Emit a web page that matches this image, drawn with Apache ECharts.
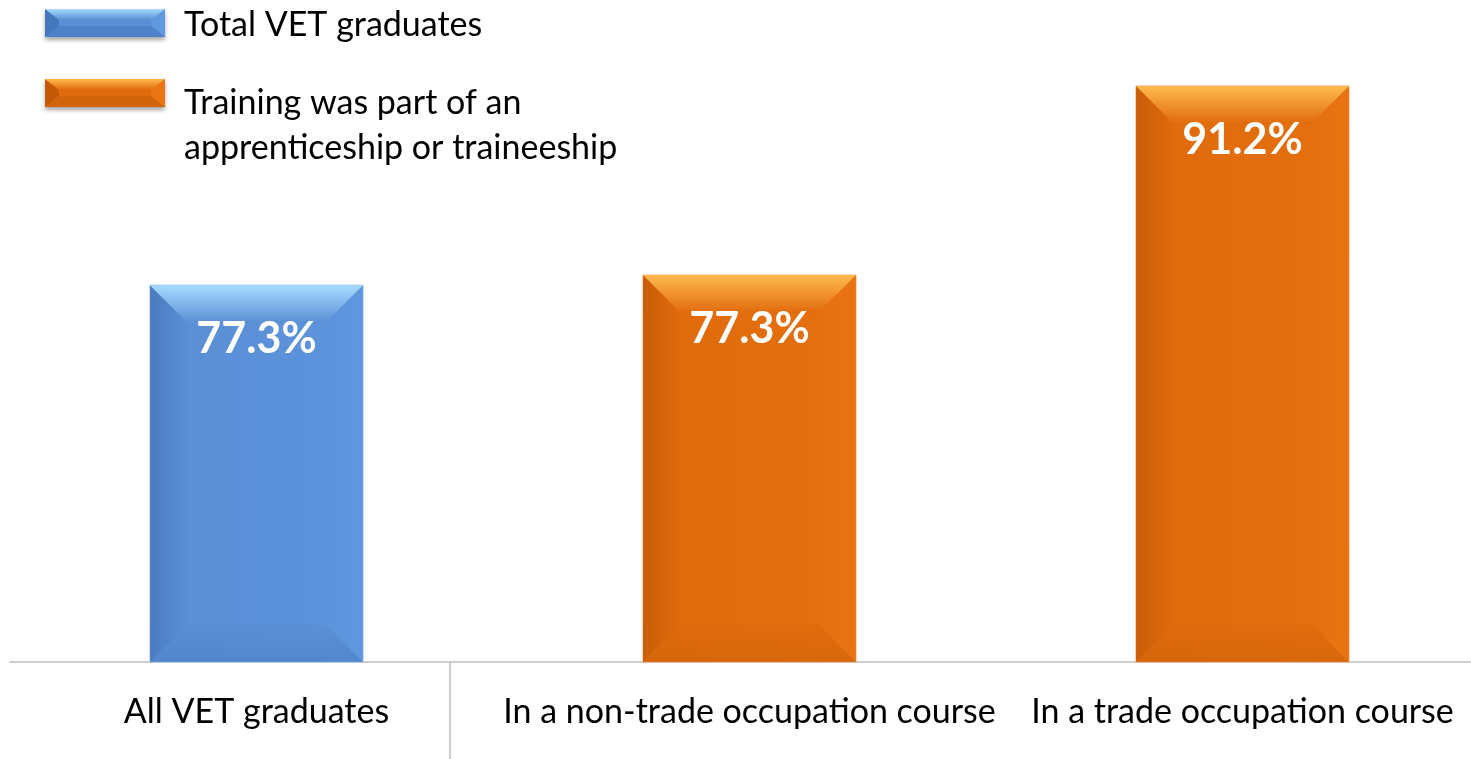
<!DOCTYPE html>
<html>
<head>
<meta charset="utf-8">
<title>VET graduates</title>
<script src="https://cdn.jsdelivr.net/npm/echarts@6/dist/echarts.min.js"></script>
<style>
  html, body { margin: 0; padding: 0; background: #fff; }
  #chart { width: 1471px; height: 759px; }
</style>
</head>
<body>
<div id="chart"></div>
<script>
// data
const categories = ['All VET graduates', 'In a non-trade occupation course', 'In a trade occupation course'];
const seriesNames = ['Total VET graduates', 'Training was part of an apprenticeship or traineeship'];
const totalValues = [77.3, null, null];
const apprenticeValues = [null, 78.0, 91.2];
const barLabels = ['77.3%', '77.3%', '91.2%'];
const legendLines = [
  '{gap| }\n{t|Total VET graduates}',
  '{gap| }\n{t|Training was part of an}\n{t|apprenticeship or traineeship}'
];

const yMin = 51;
const yMax = 97.2;

// bevel colours per series
const palettes = [
  {top: '#A6DCFF', face: '#5A8ED5', faceR: '#5C94DC', left: '#4777BB', right: '#6099E0', bottom: '#4E82C8', edge: '#9DC3EE'},
  {top: '#FFBA4F', face: '#E06A0C', faceR: '#E5700F', left: '#C45A08', right: '#EA7512', bottom: '#D2640B', edge: '#F0A873'}
];

function toData(values) {
  const out = [];
  values.forEach((v, i) => { if (v != null) out.push([i, v]); });
  return out;
}

function lg(x0, y0, x1, y1, c0, c1) {
  return new echarts.graphic.LinearGradient(x0, y0, x1, y1, [
    {offset: 0, color: c0}, {offset: 1, color: c1}
  ]);
}

// small bevelled swatch for the legend, as an svg image
function legendIcon(p) {
  const svg =
    '<svg xmlns="http://www.w3.org/2000/svg" width="120" height="28" viewBox="0 0 120 28">' +
    '<defs><linearGradient id="t" x1="0" y1="0" x2="0" y2="1">' +
    '<stop offset="0" stop-color="' + p.top + '"/><stop offset="1" stop-color="' + p.face + '"/></linearGradient></defs>' +
    '<rect x="0" y="0" width="120" height="28" fill="' + p.face + '"/>' +
    '<polygon points="0,0 14,11 14,17 0,28" fill="' + p.left + '"/>' +
    '<polygon points="120,0 106,11 106,17 120,28" fill="' + p.right + '"/>' +
    '<polygon points="0,28 14,17 106,17 120,28" fill="' + p.bottom + '"/>' +
    '<polygon points="0,0 120,0 106,11 14,11" fill="url(#t)"/>' +
    '</svg>';
  return 'image://data:image/svg+xml;charset=utf-8,' + encodeURIComponent(svg);
}

function renderBevelBar(params, api) {
  const idx = api.value(0);
  const val = api.value(1);
  const top = api.coord([idx, val]);
  const base = api.coord([idx, yMin]);
  const w = api.size([1, 0])[0] * 0.432;
  const x0 = top[0] - w / 2, x1 = top[0] + w / 2;
  const y0 = top[1], y1 = base[1];
  const b = 38; // bevel depth
  const p = palettes[params.seriesIndex];
  return {
    type: 'group',
    children: [
      {type: 'rect', shape: {x: x0, y: y0, width: w, height: y1 - y0},
        style: {fill: lg(0, 0, 1, 0, p.face, p.faceR), stroke: p.edge, lineWidth: 1}},
      {type: 'polygon', shape: {points: [[x0, y0], [x0 + b, y0 + b], [x0 + b, y1 - b], [x0, y1]]},
        style: {fill: lg(0, 0, 1, 0, p.left, p.face), opacity: 0.8}},
      {type: 'polygon', shape: {points: [[x1, y0], [x1, y1], [x1 - b, y1 - b], [x1 - b, y0 + b]]},
        style: {fill: lg(1, 0, 0, 0, p.right, p.faceR), opacity: 0.8}},
      {type: 'polygon', shape: {points: [[x0, y1], [x0 + b, y1 - b], [x1 - b, y1 - b], [x1, y1]]},
        style: {fill: lg(0, 1, 0, 0, p.bottom, p.face), opacity: 0.7}},
      {type: 'polygon', shape: {points: [[x0, y0], [x1, y0], [x1 - b, y0 + b], [x0 + b, y0 + b]]},
        style: {fill: lg(0, 0, 0, 1, p.top, p.face)}},
      {type: 'text', x: top[0], y: y0 + 54,
        style: {text: barLabels[idx], fill: '#fff', font: 'bold 43px Lato', align: 'center', verticalAlign: 'middle'}}
    ]
  };
}

const legendText = {
  fontSize: 34, color: '#000', padding: [0, 0, 0, 14]
};

const chart = echarts.init(document.getElementById('chart'));
chart.setOption({
  animation: false,
  textStyle: {fontFamily: 'Lato'},
  grid: {left: 10, right: -18, top: 0, bottom: 97, outerBoundsMode: 'none', containLabel: false},
  legend: [
    {
      data: [seriesNames[0]], left: 45, top: -2, padding: 0, icon: legendIcon(palettes[0]),
      itemWidth: 120, itemHeight: 28, selectedMode: false,
      formatter: () => legendLines[0],
      itemStyle: {shadowBlur: 4, shadowColor: 'rgba(0,0,0,0.35)', shadowOffsetY: 3},
      textStyle: Object.assign({}, legendText, {rich: {gap: {fontSize: 10, lineHeight: 5}, t: {fontSize: 34, lineHeight: 40}}})
    },
    {
      data: [seriesNames[1]], left: 45, top: 43, padding: 0, icon: legendIcon(palettes[1]),
      itemWidth: 120, itemHeight: 28, selectedMode: false,
      formatter: () => legendLines[1],
      itemStyle: {shadowBlur: 4, shadowColor: 'rgba(0,0,0,0.35)', shadowOffsetY: 3},
      textStyle: Object.assign({}, legendText, {rich: {gap: {fontSize: 10, lineHeight: 65}, t: {fontSize: 34, lineHeight: 45}}})
    }
  ],
  xAxis: {
    type: 'category',
    data: categories,
    axisLine: {lineStyle: {color: '#BFBFBF', width: 1.5}},
    axisTick: {show: false},
    axisLabel: {interval: 0, fontSize: 34, color: '#000', margin: 33}
  },
  yAxis: {type: 'value', min: yMin, max: yMax, show: false},
  graphic: [
    {type: 'line', shape: {x1: 450, y1: 662, x2: 450, y2: 759}, style: {stroke: '#BFBFBF', lineWidth: 1.5}}
  ],
  series: [
    {
      name: seriesNames[0], type: 'custom', renderItem: renderBevelBar,
      encode: {x: 0, y: 1}, data: toData(totalValues),
      itemStyle: {color: palettes[0].face}
    },
    {
      name: seriesNames[1], type: 'custom', renderItem: renderBevelBar,
      encode: {x: 0, y: 1}, data: toData(apprenticeValues),
      itemStyle: {color: palettes[1].face}
    }
  ]
});
</script>
</body>
</html>
